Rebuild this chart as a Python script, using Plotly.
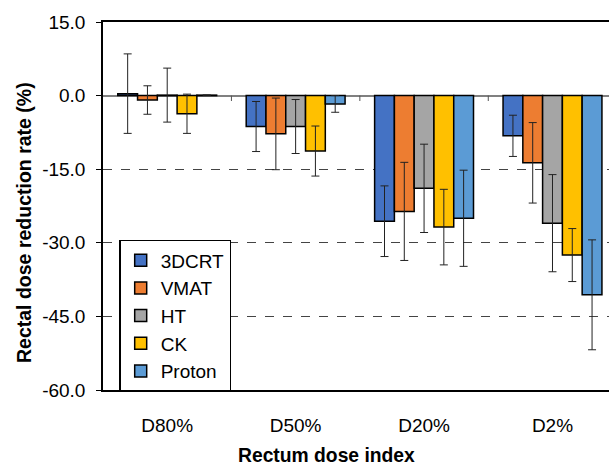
import plotly.graph_objects as go

categories = ["D80%", "D50%", "D20%", "D2%"]
series_names = ["3DCRT", "VMAT", "HT", "CK", "Proton"]
colors = ["#4472C4", "#ED7D31", "#A5A5A5", "#FFC000", "#5B9BD5"]

val_3dcrt = [0.4, -6.3, -25.6, -8.2]
val_vmat = [-0.9, -7.8, -23.6, -13.7]
val_ht = [0.1, -6.3, -18.9, -26.0]
val_ck = [-3.7, -11.3, -26.8, -32.5]
val_proton = [0.1, -1.7, -25.0, -40.6]

err_3dcrt = [8.1, 5.1, 7.2, 4.2]
err_vmat = [2.9, 7.3, 10.0, 8.2]
err_ht = [5.5, 5.5, 9.0, 9.9]
err_ck = [4.0, 5.1, 7.7, 5.4]
err_proton = [0.0, 1.7, 9.8, 11.2]

y_ticks = [15, 0, -15, -30, -45, -60]

values = [val_3dcrt, val_vmat, val_ht, val_ck, val_proton]
errors = [err_3dcrt, err_vmat, err_ht, err_ck, err_proton]

FONT = "Liberation Sans, Arial, sans-serif"

fig = go.Figure()
for i, name in enumerate(series_names):
    fig.add_trace(go.Bar(
        x=list(range(len(categories))),
        y=values[i],
        name=name,
        legendgroup=name,
        marker=dict(color=colors[i], line=dict(color="black", width=1.5)),
        error_y=dict(type="data", array=errors[i], visible=True,
                     color="#222222", thickness=1, width=4),
    ))

# small category-boundary ticks on the zero line
for i in range(len(categories) - 1):
    fig.add_shape(type="line", xref="x", yref="y", x0=i + 0.5, x1=i + 0.5,
                  y0=0, y1=-1.1, line=dict(color="#555555", width=1))

fig.update_layout(
    width=609, height=465,
    margin=dict(l=103, r=0, t=22, b=75),
    plot_bgcolor="white", paper_bgcolor="white",
    barmode="group", bargap=0.23, bargroupgap=0,
    font=dict(family=FONT, size=19, color="black"),
    showlegend=True,
    legend=dict(x=0.032, y=0.408, xanchor="left", yanchor="top",
                bordercolor="black", borderwidth=1.5, bgcolor="white",
                font=dict(size=19), tracegroupgap=8, traceorder="normal"),
    xaxis=dict(
        tickmode="array", tickvals=list(range(len(categories))), ticktext=categories,
        range=[-0.5, 3.44], showline=True, mirror=True, linecolor="black", linewidth=1.5,
        ticks="", showgrid=False, zeroline=False, ticklabelstandoff=17,
        tickfont=dict(size=19),
    ),
    yaxis=dict(
        range=[-60, 15], tickmode="array", tickvals=y_ticks,
        ticktext=[f"{v:.1f}" for v in y_ticks],
        showline=True, linecolor="black", linewidth=1.5,
        ticks="outside", ticklen=5, tickcolor="black",
        showgrid=True, gridcolor="#444444", griddash="dash", gridwidth=1,
        zeroline=True, zerolinecolor="#808080", zerolinewidth=1.5,
        ticklabelstandoff=7, tickfont=dict(size=19),
    ),
    annotations=[
        dict(text="<b>Rectum dose index</b>", xref="paper", yref="paper",
             x=(326.5 - 103) / 506, y=(390 - 455) / 368, xanchor="center", yanchor="middle",
             showarrow=False, font=dict(size=19.3)),
        dict(text="<b>Rectal dose reduction rate (%)</b>", xref="paper", yref="paper",
             x=(24 - 103) / 506, y=(390 - 223) / 368, xanchor="center", yanchor="middle",
             textangle=-90, showarrow=False, font=dict(size=19.5)),
    ],
)

fig.write_html("out.html", config={"displayModeBar": False},
               post_script="document.body.style.margin='0';document.body.style.overflow='hidden';")
